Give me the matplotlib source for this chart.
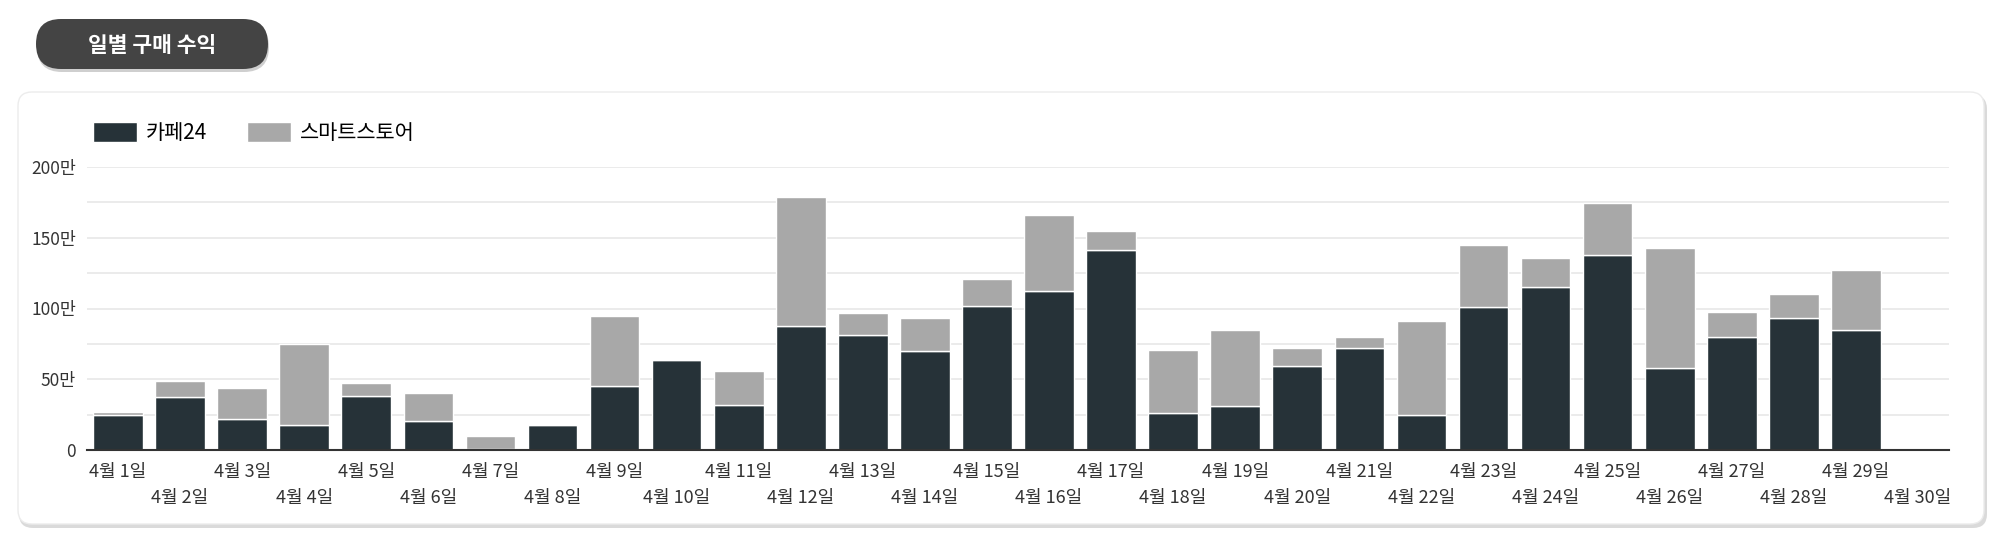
import numpy as np
import matplotlib
matplotlib.use("Agg")
import matplotlib.pyplot as plt
from matplotlib.patches import FancyBboxPatch

plt.rcParams['font.family'] = ['Noto Sans CJK KR', 'DejaVu Sans']

# data (단위: 만)
days = [f"4월 {d}일" for d in range(1, 31)]
cafe24 = [25, 37.5, 22, 18, 38.5, 20.5, 1, 18, 45, 63.5,
          32, 87.5, 81, 70, 102, 112.5, 141, 26, 31, 59.5,
          72, 25, 101, 115, 138, 58, 80, 93, 84.5, 0]
smartstore = [2, 11, 21.5, 57, 9, 20, 9, 0, 50, 0,
              24, 91, 16, 23.5, 19, 53.5, 13.5, 45, 54, 12.5,
              8, 66.5, 44, 21, 36.5, 85, 17.5, 17, 42.5, 0]
series_names = ["카페24", "스마트스토어"]
ytick_vals = [0, 50, 100, 150, 200]
ytick_labels = ["0", "50만", "100만", "150만", "200만"]

W, H = 2000, 537
fig = plt.figure(figsize=(W / 100, H / 100), dpi=100)

# background layer in pixel units for card + title pill
bg = fig.add_axes([0, 0, 1, 1], zorder=-1)
bg.set_xlim(0, W)
bg.set_ylim(H, 0)
bg.axis('off')

# card shadow + card
bg.add_patch(FancyBboxPatch((19, 95), 1968, 433, boxstyle="round,pad=0,rounding_size=14",
                            fc="#dadada", ec="none"))
bg.add_patch(FancyBboxPatch((18, 92), 1966, 432, boxstyle="round,pad=0,rounding_size=14",
                            fc="white", ec="#ececec", lw=1))

# title pill
bg.add_patch(FancyBboxPatch((37, 22), 232, 50, boxstyle="round,pad=0,rounding_size=25",
                            fc="#cfcfcf", ec="none"))
bg.add_patch(FancyBboxPatch((36, 19), 232, 50, boxstyle="round,pad=0,rounding_size=25",
                            fc="#444444", ec="none"))
bg.text(152, 45, "일별 구매 수익", color="white", fontsize=15.5, fontweight="bold",
        ha="center", va="center")

# chart axes
ax = fig.add_axes([87 / W, 1 - 450 / H, (1949 - 87) / W, (450 - 167) / H])
x = np.arange(len(days))
b1 = ax.bar(x, cafe24, width=0.8, color="#263238", edgecolor="white", linewidth=1,
            label=series_names[0], zorder=3)
b2 = ax.bar(x, smartstore, width=0.8, bottom=cafe24, color="#a8a8a8", edgecolor="white",
            linewidth=1, label=series_names[1], zorder=3)

ax.set_xlim(-0.5, len(days) - 0.5)
ax.set_ylim(0, 200)
ax.set_yticks(ytick_vals)
ax.set_yticklabels(ytick_labels)
ax.set_yticks(np.arange(25, 200, 50), minor=True)
ax.grid(axis='y', which='both', color="#e8e8e8", linewidth=1.2, zorder=0)
ax.tick_params(axis='y', which='both', length=0, pad=8, labelsize=12.5, labelcolor="#333333")

ax.set_xticks(x)
ax.set_xticklabels(days)
ax.tick_params(axis='x', length=0, labelsize=13, labelcolor="#333333", pad=9)
for i, t in enumerate(ax.xaxis.get_major_ticks()):
    if i % 2 == 1:
        t.set_pad(28)

for s in ["top", "right", "left"]:
    ax.spines[s].set_visible(False)
ax.spines["bottom"].set_color("#333333")
ax.spines["bottom"].set_linewidth(1.5)
ax.spines["bottom"].set_zorder(4)

fig.legend(handles=[b1, b2], labels=series_names, loc="center left",
           bbox_to_anchor=(93 / W, 1 - 133 / H), frameon=False, ncol=2,
           fontsize=15, handlelength=2.1, handleheight=1.05, handletextpad=0.45,
           columnspacing=1.9, borderpad=0, borderaxespad=0)

fig.savefig("out.png", dpi=100, facecolor="white")
